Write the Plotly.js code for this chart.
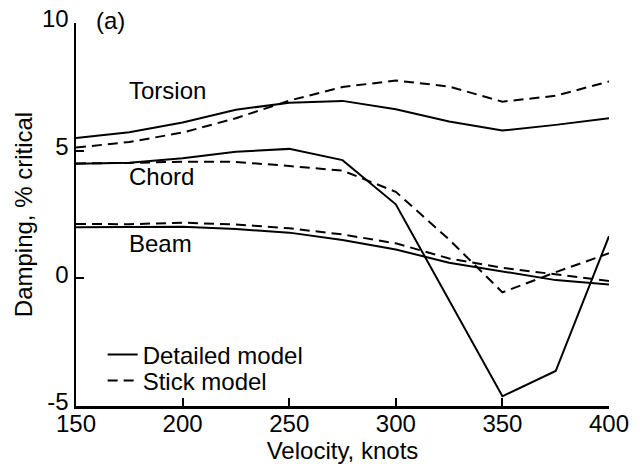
<!DOCTYPE html>
<html>
<head>
<meta charset="utf-8">
<script src="https://cdn.plot.ly/plotly-3.0.1.min.js"></script>
<style>html,body{margin:0;padding:0;background:#fff;}#chart{width:644px;height:467px;}</style>
</head>
<body>
<div id="chart"></div>
<script>
const velocity = [150, 175, 200, 225, 250, 275, 300, 325, 350, 375, 400];
const torsionDetailed = [5.5, 5.72, 6.1, 6.6, 6.88, 6.95, 6.62, 6.14, 5.79, 6.01, 6.27];
const torsionStick = [5.12, 5.34, 5.71, 6.27, 6.96, 7.49, 7.75, 7.51, 6.92, 7.15, 7.71];
const chordDetailed = [4.49, 4.53, 4.7, 4.96, 5.07, 4.63, 2.9, -0.85, -4.62, -3.63, 1.65];
const chordStick = [4.5, 4.52, 4.57, 4.56, 4.4, 4.22, 3.39, 1.52, -0.55, 0.24, 0.98];
const beamDetailed = [2.0, 2.0, 2.02, 1.93, 1.79, 1.5, 1.13, 0.61, 0.26, -0.07, -0.24];
const beamStick = [2.13, 2.12, 2.18, 2.11, 1.96, 1.72, 1.37, 0.78, 0.41, 0.16, -0.1];

const xTicks = [150, 200, 250, 300, 350, 400];
const xTickText = ['150', '200', '250', '300', '350', '400'];
const yTicks = [-5, 0, 5, 10];
const yTickText = ['-5', '0', '5', '10'];

const modeNames = ['Detailed model', 'Stick model'];
const modeLabels = ['Torsion', 'Chord', 'Beam'];
const panelLabel = '(a)';

const FONT = 'Liberation Sans, Arial, sans-serif';
const FS = 24;
const solid = {color: '#000', width: 2, dash: 'solid'};
const dashed = {color: '#000', width: 2, dash: '10px,6px'};

function tr(y, name, line, show, leg) {
  return {x: velocity, y: y, type: 'scatter', mode: 'lines', name: name,
    legendgroup: name, showlegend: show, legend: leg, line: line, hoverinfo: 'skip'};
}

const data = [
  tr(torsionDetailed, modeNames[0], solid, true, 'legend'),
  tr(chordDetailed, modeNames[0], solid, false, 'legend'),
  tr(beamDetailed, modeNames[0], solid, false, 'legend'),
  tr(torsionStick, modeNames[1], dashed, true, 'legend2'),
  tr(chordStick, modeNames[1], dashed, false, 'legend2'),
  tr(beamStick, modeNames[1], dashed, false, 'legend2')
];

const legFont = {family: FONT, size: FS, color: '#000'};
const layout = {
  width: 644, height: 467,
  margin: {l: 76, r: 35, t: 23, b: 61, pad: 0},
  paper_bgcolor: '#fff', plot_bgcolor: '#fff',
  font: {family: FONT, size: FS, color: '#000'},
  showlegend: true,
  legend: {x: 0.05, y: (406 - 355) / 383, xanchor: 'left', yanchor: 'middle', bgcolor: 'rgba(0,0,0,0)',
    font: legFont, borderwidth: 0},
  legend2: {x: 0.05, y: (406 - 381) / 383, xanchor: 'left', yanchor: 'middle', bgcolor: 'rgba(0,0,0,0)',
    font: legFont, borderwidth: 0},
  xaxis: {range: [150, 400], tickvals: xTicks, ticktext: xTickText, ticks: 'inside', ticklen: 8,
    tickwidth: 2, tickcolor: '#000', showline: true, linewidth: 2.5, linecolor: '#000',
    showgrid: false, zeroline: false, mirror: false, ticklabelstandoff: -5,
    title: {text: 'Velocity, knots', font: {family: FONT, size: FS}, standoff: 0}},
  yaxis: {range: [-5, 10], tickvals: yTicks, ticktext: yTickText, ticks: 'inside', ticklen: 8,
    tickwidth: 2, tickcolor: '#000', showline: true, linewidth: 2.5, linecolor: '#000',
    showgrid: false, zeroline: false, mirror: false, ticklabelshift: -4,
    title: {text: 'Damping, % critical', font: {family: FONT, size: FS}, standoff: 3}},
  annotations: [
    {text: panelLabel, x: (94 - 76) / 533, y: 1 + (23 - 21) / 383, xref: 'paper', yref: 'paper', xanchor: 'left', yanchor: 'middle', showarrow: false},
    {text: modeLabels[0], x: 174, y: 7.36, xref: 'x', yref: 'y', xanchor: 'left', yanchor: 'middle', showarrow: false},
    {text: modeLabels[1], x: 174, y: 3.98, xref: 'x', yref: 'y', xanchor: 'left', yanchor: 'middle', showarrow: false},
    {text: modeLabels[2], x: 174, y: 1.36, xref: 'x', yref: 'y', xanchor: 'left', yanchor: 'middle', showarrow: false}
  ]
};

Plotly.newPlot('chart', data, layout, {staticPlot: true, displayModeBar: false});
</script>
</body>
</html>
